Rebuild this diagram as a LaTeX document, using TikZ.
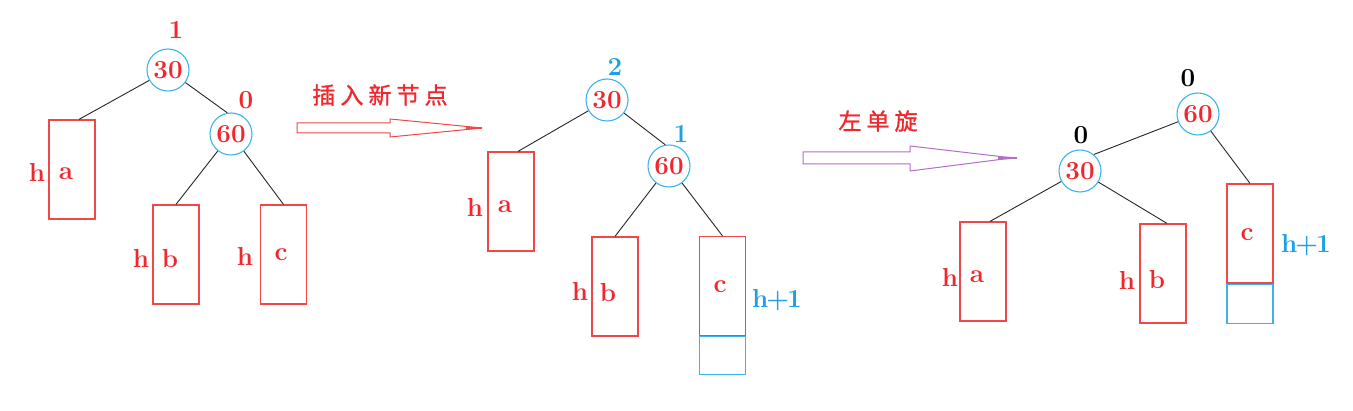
\documentclass[tikz,border=0pt]{standalone}
\usepackage{fontspec}
\newfontfamily\cjk[LetterSpace=22,FakeBold=1.2]{Noto Sans CJK SC}
\definecolor{tred}{HTML}{F0282E}
\definecolor{bred}{HTML}{F04848}
\definecolor{cblue}{HTML}{3AB4EC}
\definecolor{tblue}{HTML}{1EA0E6}
\definecolor{apurple}{HTML}{B46EC8}
\newcommand{\hplus}{h\kern-2pt+\kern-2pt1}
\begin{document}
\begin{tikzpicture}[x=1pt,y=-1pt,
 every node/.style={font=\fontsize{26}{28}\selectfont\bfseries},
 avl/.style={circle,draw=cblue,line width=1.1pt,minimum size=42pt,inner sep=0pt,text=tred},
 sub/.style={rectangle,draw=bred,line width=1.2pt,minimum width=46pt,minimum height=99pt,inner sep=0pt},
 ext/.style={rectangle,draw=cblue,line width=1.3pt,minimum width=46pt,inner sep=0pt,anchor=north},
 lbl/.style={text=tred,inner sep=0pt},
 hb/.style={text=tblue,inner sep=0pt},
 hk/.style={text=black,inner sep=0pt},
 cjklbl/.style={text=tred,inner sep=0pt,font=\fontsize{23}{25}\selectfont\cjk},
 link/.style={draw=black!85,line width=0.9pt},
 bigarrow/.style={line width=1pt,fill=white},
]
\useasboundingbox (0,0) rectangle (1353,411);

% ---------- tree 1 ----------
\node[avl] (t1r) at (168,70) {30};
\node[avl] (t1s) at (231,134) {60};
\node[sub] (t1a) at (72,169.5) {};
\node[sub] (t1b) at (176,254.5) {};
\node[sub] (t1c) at (283.5,254.5) {};
\node[lbl] (t1rb) at (176,30) {1};
\node[lbl] (t1sb) at (246,100) {0};
\node[lbl] (t1ha) at (37,172) {h};
\node[lbl] (t1la) at (66,174) {a};
\node[lbl] (t1hb) at (141,258) {h};
\node[lbl] (t1lb) at (170,259) {b};
\node[lbl] (t1hc) at (245,256) {h};
\node[lbl] (t1lc) at (281,255) {c};
\draw[link] (t1r) -- ([xshift=7pt]t1a.north);
\draw[link] (t1r) -- (t1s.100);
\draw[link] (t1s) -- (t1b.north);
\draw[link] (t1s) -- (t1c.north);

% ---------- arrow 1 ----------
\node[cjklbl] (ins) at (380,95) {插入新节点};
\coordinate (ar1e) at (482,128);
\draw[bigarrow,draw=bred] (297,123) -- (390,123) -- (390,119) -- (468,126.6) -- (ar1e)
  -- (468,129.4) -- (390,137) -- (390,133) -- (297,133) -- cycle;
\draw[bred,line width=1.6pt] (466,128) -- (ar1e);

% ---------- tree 2 ----------
\node[avl] (t2r) at (607,100) {30};
\node[avl] (t2s) at (669,166) {60};
\node[sub] (t2a) at (511,201.5) {};
\node[sub] (t2b) at (615,286.5) {};
\node[sub] (t2c) at (722.5,286) {};
\node[ext,minimum height=38pt] (t2x) at (t2c.south) {};
\node[hb] (t2rb) at (615,67) {2};
\node[hb] (t2sb) at (681,134) {1};
\node[lbl] (t2ha) at (475,207) {h};
\node[lbl] (t2la) at (505,207) {a};
\node[lbl] (t2hb) at (580,291) {h};
\node[lbl] (t2lb) at (608,293) {b};
\node[lbl] (t2lc) at (720,287) {c};
\node[hb] (t2h1) at (777,300) {\hplus};
\draw[link] (t2r) -- ([xshift=7pt]t2a.north);
\draw[link] (t2r) -- (t2s.100);
\draw[link] (t2s) -- (t2b.north);
\draw[link] (t2s) -- (t2c.north);

% ---------- arrow 2 ----------
\node[cjklbl] (rot) at (878,121) {左单旋};
\coordinate (ar2e) at (1017,158);
\draw[bigarrow,draw=apurple] (803,152) -- (910,152) -- (910,146) -- (1000,156.5) -- (ar2e)
  -- (1000,159.5) -- (910,171) -- (910,164) -- (803,164) -- cycle;
\draw[apurple,line width=1.6pt] (998,158) -- (ar2e);

% ---------- tree 3 ----------
\node[avl] (t3r) at (1198,114) {60};
\node[avl] (t3s) at (1080,171) {30};
\node[sub] (t3a) at (983,271.5) {};
\node[sub] (t3b) at (1163,273.5) {};
\node[sub] (t3c) at (1250,233.5) {};
\node[ext,minimum height=39pt] (t3x) at (t3c.south) {};
\node[hk] (t3rb) at (1188,78) {0};
\node[hk] (t3sb) at (1081,135) {0};
\node[lbl] (t3ha) at (950,277) {h};
\node[lbl] (t3la) at (977,277) {a};
\node[lbl] (t3hb) at (1127,280) {h};
\node[lbl] (t3lb) at (1157,280) {b};
\node[lbl] (t3lc) at (1247,235) {c};
\node[hb] (t3h1) at (1306,245) {\hplus};
\draw[link] (t3r) -- (t3s.50);
\draw[link] (t3r) -- (t3c.north);
\draw[link] (t3s) -- ([xshift=7pt]t3a.north);
\draw[link] (t3s) -- ([xshift=4pt]t3b.north);
\end{tikzpicture}
\end{document}
